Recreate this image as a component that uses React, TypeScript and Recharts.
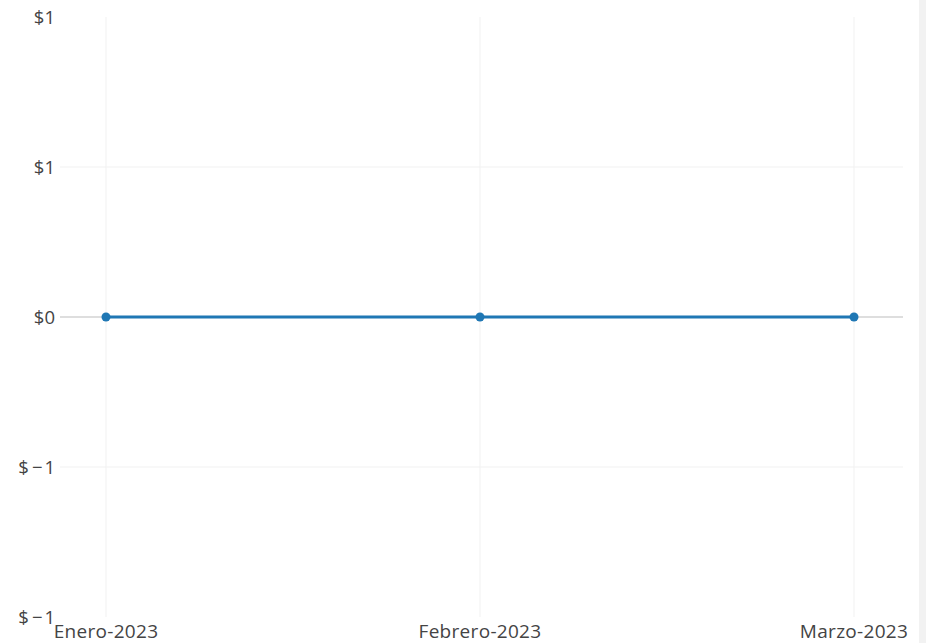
import React from "react"
import { LineChart, Line, XAxis, YAxis, CartesianGrid, ReferenceLine } from "recharts"

const months = ["Enero-2023", "Febrero-2023", "Marzo-2023"]
const amounts = [0, 0, 0]
const yTicks = [-1, -0.5, 0, 0.5, 1]

const data = months.map((m, i) => ({ month: m, amount: amounts[i] }))

// plotly-style rounding: half away from zero, real minus sign
const fmtMoney = (v: number) => {
  const r = Math.round(Math.abs(v))
  if (r === 0) return "$0"
  return v < 0 ? `$\u2009\u2212\u200a${r}` : `$${r}`
}

const FONT = "'Open Sans', sans-serif"

const XTick = (props: any) => {
  const { x, y, payload } = props
  return (
    <text
      x={x}
      y={y + 21}
      textAnchor="middle"
      fill="#444"
      fontSize={19}
      letterSpacing={0.3}
      fontFamily={FONT}
    >
      {payload.value}
    </text>
  )
}

const YTick = (props: any) => {
  const { x, y, payload } = props
  return (
    <text x={x} y={y} dy="0.36em" textAnchor="end" fill="#444" fontSize={18.5} fontFamily={FONT}>
      {fmtMoney(payload.value)}
    </text>
  )
}

export default function App() {
  return (
    <div style={{ position: "absolute", left: 0, top: 0, width: 926, height: 643, background: "#fff" }}>
      <LineChart width={926} height={643} data={data} margin={{ top: 17, right: 23, bottom: 0, left: 0 }}>
        <CartesianGrid stroke="#f1f1f1" horizontalValues={[-0.5, 0.5]} verticalValues={months} />
        <XAxis
          dataKey="month"
          padding={{ left: 46, right: 49 }}
          axisLine={false}
          tickLine={false}
          tickSize={0}
          tickMargin={0}
          height={26}
          interval={0}
          tick={<XTick />}
        />
        <YAxis
          domain={[-1, 1]}
          ticks={yTicks}
          width={60}
          axisLine={false}
          tickLine={false}
          tickSize={0}
          tickMargin={5}
          tick={<YTick />}
        />
        <ReferenceLine y={0} stroke="#bdbdbd" strokeWidth={1} />
        <Line
          dataKey="amount"
          stroke="#1f77b4"
          strokeWidth={3}
          dot={{ r: 4.5, fill: "#1f77b4", stroke: "#1f77b4", strokeWidth: 0 }}
          isAnimationActive={false}
        />
      </LineChart>
      <div style={{ position: "absolute", left: 919, top: 0, width: 7, height: 643, background: "#f2f2f2" }} />
    </div>
  )
}
